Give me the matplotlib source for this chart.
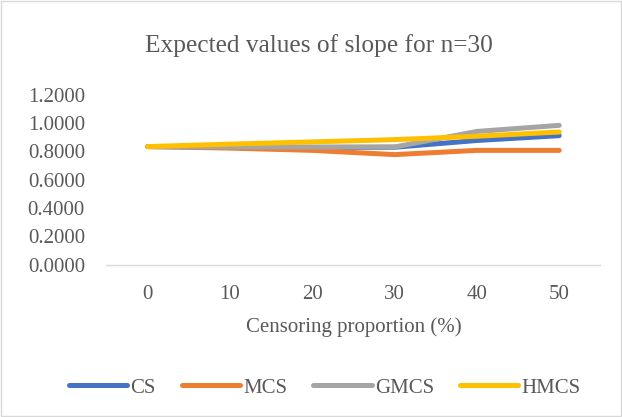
import numpy as np
import matplotlib.pyplot as plt

props = ["0", "10", "20", "30", "40", "50"]
cs = [0.835, 0.830, 0.828, 0.830, 0.878, 0.912]
mcs = [0.835, 0.824, 0.808, 0.778, 0.808, 0.808]
gmcs = [0.835, 0.832, 0.832, 0.832, 0.942, 0.985]
hmcs = [0.835, 0.852, 0.868, 0.884, 0.908, 0.938]

plt.rcParams['font.family'] = ['Liberation Serif', 'DejaVu Serif']
tc = "#595959"

fig = plt.figure(figsize=(6.22, 4.17), dpi=100)
ax = fig.add_axes([0.1712, 0.3657, 0.794, 0.4065])

x = np.arange(len(props))
series = [("CS", cs, "#4472C4"), ("MCS", mcs, "#ED7D31"),
          ("GMCS", gmcs, "#A5A5A5"), ("HMCS", hmcs, "#FFC000")]
for name, vals, col in series:
    ax.plot(x, vals, color=col, lw=3.6, label=name, solid_capstyle="round",
            solid_joinstyle="round")

ax.set_xlim(-0.5, 5.5)
ax.set_ylim(0, 1.2)
ax.set_yticks(np.arange(0, 1.21, 0.2))
ax.set_yticklabels(["%.4f" % v for v in np.arange(0, 1.21, 0.2)])
ax.set_xticks(x)
ax.set_xticklabels(props)
for s in ["top", "right", "left"]:
    ax.spines[s].set_visible(False)
ax.spines["bottom"].set_color("#D9D9D9")
ax.spines["bottom"].set_linewidth(1)
ax.tick_params(length=0, labelsize=15, colors=tc, pad=15.5)
ax.tick_params(axis="x", pad=15)
ax.set_xlabel("Censoring proportion (%)", fontsize=15, color=tc, labelpad=9)
fig.text(0.512, 0.892, "Expected values of slope for n=30", ha="center", va="center",
         fontsize=18.3, color=tc)

leg = fig.legend(loc="center", bbox_to_anchor=(0.522, 0.07), ncol=4, frameon=False,
                 fontsize=15, handlelength=2.8, columnspacing=1.25, handletextpad=0.15,
                 labelcolor=tc)
for h in leg.get_lines():
    h.set_solid_capstyle("round")
    h.set_linewidth(3.6)

fig.patches.append(plt.Rectangle((0.002, 0.002), 0.996, 0.996, transform=fig.transFigure,
                                 fill=False, edgecolor="#D9D9D9", lw=1))
fig.savefig("out.png", dpi=100)
